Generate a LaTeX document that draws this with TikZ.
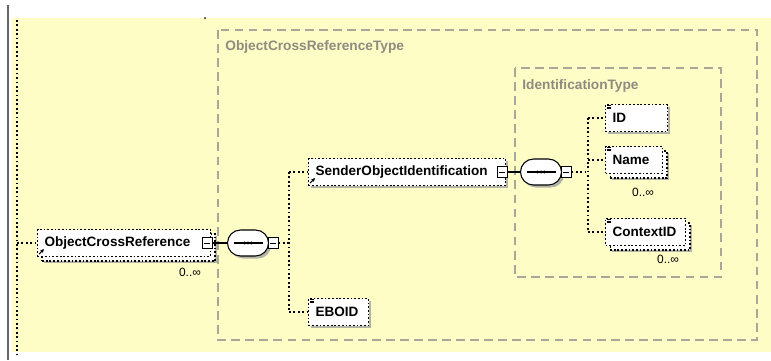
\documentclass[tikz,border=0pt]{standalone}
\usepackage{fontspec}
\setmainfont{Liberation Sans}
\usetikzlibrary{shapes.misc,shadows,arrows.meta}
\definecolor{bgyel}{HTML}{FFFDC6}
\definecolor{grpgray}{HTML}{A9A79A}
\definecolor{shad}{HTML}{B4B3A8}
\definecolor{lblgray}{HTML}{8E8C80}

\tikzset{
  elem/.style={draw, dash pattern=on 1pt off 1.1pt, line width=0.7pt, fill=white,
    anchor=west, minimum height=0.54cm, inner xsep=0.14cm, inner ysep=0pt,
    align=left, font=\bfseries\fontsize{7.7}{8}\selectfont},
  onebox/.style={drop shadow={shadow xshift=0.05cm, shadow yshift=-0.05cm, fill=shad, opacity=1}},
  manybox/.style={drop shadow={shadow xshift=0.13cm, shadow yshift=-0.13cm, fill=shad, opacity=1},
    copy shadow={draw=black, dash pattern=on 1pt off 1.1pt, line width=0.7pt, fill=white,
      shadow xshift=0.09cm, shadow yshift=-0.09cm, opacity=1}},
  minusbox/.style={draw, fill=white, line width=0.5pt, minimum width=0.2cm, minimum height=0.23cm,
    inner sep=0pt, path picture={\draw[black] ([xshift=0.04cm]path picture bounding box.west)
      -- ([xshift=-0.04cm]path picture bounding box.east);}},
  seqbox/.style={rounded rectangle, draw, line width=0.6pt, fill=white,
    minimum width=0.82cm, minimum height=0.52cm, inner sep=0pt,
    drop shadow={shadow xshift=0.05cm, shadow yshift=-0.05cm, fill=shad, opacity=1},
    path picture={
      \draw[black, line width=0.6pt] ([xshift=0.12cm]path picture bounding box.west)
        -- ([xshift=-0.12cm]path picture bounding box.east);
      \foreach \d in {-0.065,0,0.065}
        \fill[black] ([xshift=\d cm]path picture bounding box.center) circle (0.032cm);}},
  link/.style={line width=0.6pt},
  dotlink/.style={line width=0.7pt, dash pattern=on 1pt off 1.5pt},
  grp/.style={draw=grpgray, line width=0.8pt, dash pattern=on 5pt off 3pt},
  grplabel/.style={anchor=west, text=lblgray, inner sep=0pt, font=\bfseries\fontsize{7.8}{8}\selectfont},
  occurs/.style={inner sep=0pt, font=\fontsize{6.8}{7}\selectfont}
}

\begin{document}
\begin{tikzpicture}[x=0.02cm, y=-0.02cm]
  \useasboundingbox (0,0) rectangle (771,360);
  % Hintergrund
  \fill[white] (0,0) rectangle (771,360);
  \fill[bgyel] (12,18) rectangle (771,352);
  \draw[gray!80!black, line width=0.8pt] (8,5) -- (8,360);
  \fill[black!70] (205,18) circle (0.025cm);
  % Gruppen
  \draw[grp] (218,30) rectangle (757,340);
  \node[grplabel] (lblocr) at (225,47) {ObjectCrossReferenceType};
  \draw[grp] (515,68) rectangle (721,277);
  \node[grplabel] (lblid) at (522,86) {IdentificationType};

  % Elemente
  \node[elem, manybox, text width=3.18cm] (ocr) at (37,243) {ObjectCrossReference};
  \node[minusbox] (ocrm) at (207,243) {};
  \node[occurs] (ocrocc) at (190,272) {0..∞};
  \node[seqbox] (seqa) at (248,243) {};
  \node[minusbox] (seqam) at (273,243) {};

  \node[elem, onebox, text width=3.66cm] (soi) at (308,172) {SenderObjectIdentification};
  \node[minusbox] (soim) at (502,172) {};
  \node[elem, onebox, text width=0.92cm] (eboid) at (308,312) {EBOID};
  \node[seqbox] (seqb) at (541,172) {};
  \node[minusbox] (seqbm) at (566,172) {};

  \node[elem, onebox, text width=0.96cm] (id) at (605,118) {ID};
  \node[elem, manybox, text width=0.86cm] (name) at (605,160) {Name};
  \node[occurs] (nameocc) at (643,192) {0..∞};
  \node[elem, manybox, text width=1.32cm] (ctx) at (605,232) {ContextID};
  \node[occurs] (ctxocc) at (668,259) {0..∞};

  % Verbindungen
  \coordinate (root) at (17,243);
  \draw[dotlink] (17,20) -- (17,354);
  \draw[dotlink] (root) -- (ocr.west);
  \draw[link] (ocrm.east) -- (seqa.west);
  \draw[link] (seqa.east) -- (seqam.west);
  \coordinate (spa) at (289,243);
  \coordinate (spatop) at (289,172);
  \coordinate (spabot) at (289,312);
  \draw[dotlink] (seqam.east) -- (spa);
  \draw[dotlink] (spatop) -- (spabot);
  \draw[dotlink] (spatop) -- (soi.west);
  \draw[dotlink] (spabot) -- (eboid.west);

  \draw[link] (soim.east) -- (seqb.west);
  \draw[link] (seqb.east) -- (seqbm.west);
  \coordinate (spb) at (588,172);
  \coordinate (spbtop) at (588,118);
  \coordinate (spbbot) at (588,232);
  \draw[dotlink] (seqbm.east) -- (spb);
  \draw[dotlink] (spbtop) -- (spbbot);
  \draw[dotlink] (spbtop) -- (id.west);
  \draw[dotlink] (588,160) -- (name.west);
  \draw[dotlink] (spbbot) -- (ctx.west);

  % Symbole
  \foreach \e in {ocr,soi}
    \draw[-{Stealth[length=2.2pt,width=2.2pt]}, line width=0.6pt]
      ([shift={(0.04cm,0.06cm)}]\e.south west) -- ++(0.1cm,0.1cm);
  \foreach \e in {id,name,ctx,eboid}
    \foreach \k in {0,1,2}
      \draw[line width=0.35pt] ([shift={(0.03cm,-0.03cm-\k*0.03cm)}]\e.north west) -- ++(0.09cm,0);
\end{tikzpicture}
\end{document}
